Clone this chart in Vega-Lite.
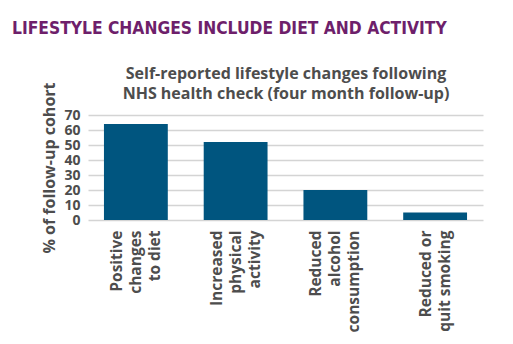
{
  "$schema": "https://vega.github.io/schema/vega-lite/v6.json",
  "autosize": "none",
  "width": 395,
  "height": 105,
  "padding": {"left": 88, "top": 115, "right": 30, "bottom": 124},
  "background": "white",
  "config": {"view": {"stroke": null}},
  "title": {
    "text": "LIFESTYLE CHANGES INCLUDE DIET AND ACTIVITY",
    "anchor": "start",
    "frame": "group",
    "dx": -76,
    "font": "DejaVu Sans Condensed",
    "fontSize": 17.3,
    "fontWeight": "bold",
    "color": "#6e1f6b",
    "offset": 28
  },
  "data": {
    "values": [
      {"change": "Positive changes to diet", "percent": 64},
      {"change": "Increased physical activity", "percent": 52},
      {"change": "Reduced alcohol consumption", "percent": 20},
      {"change": "Reduced or quit smoking", "percent": 5}
    ]
  },
  "resolve": {"axis": {"x": "independent"}},
  "layer": [
    {
      "mark": {"type": "bar", "color": "#00557f"},
      "encoding": {
        "x": {
          "field": "change",
          "type": "nominal",
          "sort": null,
          "scale": {"paddingInner": 0.36, "paddingOuter": 0.16},
          "axis": {
            "orient": "bottom",
            "title": null,
            "labelAngle": 270,
            "labelAlign": "right",
            "labelBaseline": "middle",
            "labelPadding": 10,
            "labelOffset": {"condition": {"test": "datum.value == 'Reduced or quit smoking'", "value": -9.5}, "value": -19},
            "labelFont": "Open Sans",
            "labelFontSize": 15.5,
            "labelFontWeight": "bold",
            "labelColor": "#4d4d4d",
            "labelLineHeight": 19,
            "labelExpr": "datum.value == 'Positive changes to diet' ? ['Positive', 'changes', 'to diet'] : datum.value == 'Increased physical activity' ? ['Increased', 'physical', 'activity'] : datum.value == 'Reduced alcohol consumption' ? ['Reduced', 'alcohol', 'consumption'] : ['Reduced or', 'quit smoking']",
            "ticks": false,
            "domain": false,
            "grid": false
          }
        },
        "y": {
          "field": "percent",
          "type": "quantitative",
          "scale": {"domain": [0, 70], "nice": false},
          "axis": {
            "values": [0, 10, 20, 30, 40, 50, 60, 70],
            "labelOverlap": false,
            "title": "% of follow-up cohort",
            "titleFont": "Open Sans",
            "titleFontSize": 16,
            "titleFontWeight": "bold",
            "titleColor": "#4d4d4d",
            "titlePadding": 6,
            "labelFont": "Open Sans",
            "labelFontSize": 14,
            "labelFontWeight": "bold",
            "labelColor": "#4d4d4d",
            "labelPadding": 8,
            "ticks": false,
            "domain": false,
            "grid": true,
            "gridColor": "#d4d4d4",
            "gridWidth": 1.5
          }
        }
      }
    },
    {
      "mark": {"type": "bar", "opacity": 0},
      "encoding": {
        "x": {
          "field": "change",
          "type": "nominal",
          "sort": null,
          "axis": {
            "orient": "top",
            "title": ["Self-reported lifestyle changes following", "NHS health check (four month follow-up)"],
            "titleFont": "Open Sans",
            "titleFontSize": 16,
            "titleFontWeight": "bold",
            "titleColor": "#4d4d4d",
            "titleLineHeight": 20,
            "titlePadding": 14,
            "labels": false,
            "ticks": false,
            "domain": false,
            "grid": false
          }
        }
      }
    }
  ]
}
